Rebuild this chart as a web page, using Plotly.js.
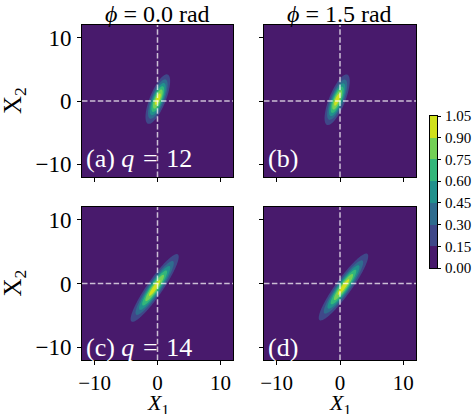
<!DOCTYPE html>
<html><head><meta charset="utf-8">
<script src="https://cdn.plot.ly/plotly-3.0.1.min.js"></script>
<style>html,body{margin:0;padding:0;background:#fff}</style>
</head><body><div id="chart" style="width:473px;height:418px"></div>
<script>
// ---- data ----
const panelLabels = ['(a) <i>q</i>\u2004=\u200412', '(b)', '(c) <i>q</i>\u2004=\u200414', '(d)'];
const columnTitles = ['<i>\u03d5</i> = 0.0 rad', '<i>\u03d5</i> = 1.5 rad'];
// Gaussian-like density fitted to each panel (peak, centre, spread, tilt)
const peakValue  = [1.00, 1.00, 1.00, 1.00];
const centreX1   = [0.05, -0.45, -0.45, 0.55];
const centreX2   = [0.30, 0.20, -0.70, -0.55];
const sigmaMajor = [2.15, 2.20, 3.30, 3.30];
const sigmaMinor = [0.65, 0.65, 0.64, 0.64];
const tiltDeg    = [68, 68, 55, 54];
const colorbarTicks = [0.00, 0.15, 0.30, 0.45, 0.60, 0.75, 0.90, 1.05];
const bandColors = ['#481a6c', '#3f4889', '#2f6c8e', '#21918c', '#33b67a', '#73d056', '#d0e11c'];
const axisTicks = [-10, 0, 10];
const axisTickText = ['\u221210', '0', '10'];

const FONT = 'Liberation Serif, Times New Roman, serif';
const W = 473, H = 418;

// grid
const grid = [];
for (let v = -12; v <= 12.0001; v += 0.1) grid.push(+v.toFixed(2));

function field(i) {
  const t = tiltDeg[i] * Math.PI / 180, c = Math.cos(t), s = Math.sin(t);
  return grid.map(y => grid.map(x => {
    const dx = x - centreX1[i], dy = y - centreX2[i];
    const u = dx * c + dy * s, w = -dx * s + dy * c;
    return peakValue[i] * Math.exp(-0.5 * (u * u / (sigmaMajor[i] ** 2) + w * w / (sigmaMinor[i] ** 2)));
  }));
}

const colorscale = bandColors.map((col, k) => [k / (bandColors.length - 1), col]);
const step = colorbarTicks[1] - colorbarTicks[0];

const traces = [0, 1, 2, 3].map(i => ({
  type: 'contour',
  x: grid, y: grid, z: field(i),
  xaxis: 'x' + (i + 1), yaxis: 'y' + (i + 1),
  autocontour: false,
  contours: {start: colorbarTicks[1], end: colorbarTicks[colorbarTicks.length - 2], size: step, coloring: 'fill', showlines: false},
  line: {width: 0},
  colorscale: colorscale,
  showscale: false,
  hoverinfo: 'skip'
}));

// colour bar drawn as a heatmap of the band mid-values
const bandMids = colorbarTicks.slice(0, -1).map((v, k) => (v + colorbarTicks[k + 1]) / 2);
traces.push({
  type: 'heatmap', xaxis: 'x5', yaxis: 'y5',
  x: [0], y: colorbarTicks, z: bandMids.map(v => [v]),
  colorscale: colorscale, zmin: bandMids[0], zmax: bandMids[bandMids.length - 1],
  showscale: false, hoverinfo: 'skip'
});

const colX = [[82 / W, 233 / W], [264 / W, 416 / W]];
const rowY = [[1 - 177 / H, 1 - 25 / H], [1 - 360 / H, 1 - 207 / H]];

const layout = {
  width: W, height: H,
  margin: {l: 0, r: 0, t: 0, b: 0, autoexpand: false},
  paper_bgcolor: '#fff', plot_bgcolor: '#fff',
  showlegend: false,
  annotations: [], shapes: [],
  xaxis5: {domain: [430 / W, 437 / W], range: [-0.5, 0.5], showticklabels: false, ticks: '',
           showline: true, mirror: true, linecolor: '#000', linewidth: 1, showgrid: false, zeroline: false, anchor: 'y5'},
  yaxis5: {domain: [1 - 268 / H, 1 - 116 / H], range: [colorbarTicks[0], colorbarTicks[colorbarTicks.length - 1]],
           side: 'right', tickvals: colorbarTicks, ticktext: colorbarTicks.map(v => v.toFixed(2)),
           ticks: 'outside', ticklen: 3, tickcolor: '#000', ticklabelstandoff: 1,
           showline: true, mirror: true, linecolor: '#000', linewidth: 1, showgrid: false, zeroline: false,
           tickfont: {family: FONT, size: 15, color: '#000'}, anchor: 'x5'}
};

for (let i = 0; i < 4; i++) {
  const col = i % 2, row = Math.floor(i / 2);
  const ax = {
    domain: col === 0 ? colX[0] : colX[1],
    range: [-12, 12], tickvals: axisTicks, ticktext: axisTickText,
    ticks: 'outside', ticklen: 4, tickwidth: 1, tickcolor: '#000',
    showline: true, mirror: true, linecolor: '#000', linewidth: 1,
    showgrid: false, zeroline: false,
    tickfont: {family: FONT, size: 21, color: '#000'},
    showticklabels: row === 1,
    anchor: 'y' + (i + 1)
  };
  const ay = {
    domain: row === 0 ? rowY[0] : rowY[1],
    range: [-12, 12], tickvals: axisTicks, ticktext: axisTickText,
    ticks: 'outside', ticklen: 4, tickwidth: 1, tickcolor: '#000',
    showline: true, mirror: true, linecolor: '#000', linewidth: 1,
    showgrid: false, zeroline: false,
    tickfont: {family: FONT, size: 23, color: '#000'},
    showticklabels: col === 0, ticklabelstandoff: 1,
    anchor: 'x' + (i + 1)
  };
  layout['xaxis' + (i === 0 ? '' : i + 1)] = ax;
  layout['yaxis' + (i === 0 ? '' : i + 1)] = ay;

  const dash = {color: 'rgba(255,255,255,0.72)', width: 1.5, dash: '5.5px,2.4px'};
  layout.shapes.push({type: 'line', xref: 'x' + (i + 1), yref: 'y' + (i + 1) + ' domain', x0: 0, x1: 0, y0: 0, y1: 1, line: dash});
  layout.shapes.push({type: 'line', xref: 'x' + (i + 1) + ' domain', yref: 'y' + (i + 1), x0: 0, x1: 1, y0: 0, y1: 0, line: dash});

  layout.annotations.push({
    text: panelLabels[i], xref: 'paper', yref: 'paper',
    x: (col === 0 ? 84 : 266) / W, y: 1 - (row === 0 ? 159 : 347) / H,
    xanchor: 'left', yanchor: 'middle', showarrow: false,
    font: {family: FONT, size: 26, color: '#fff'}
  });
}

// column titles
columnTitles.forEach((t, c) => layout.annotations.push({
  text: t, xref: 'paper', yref: 'paper',
  x: (colX[c][0] + colX[c][1]) / 2, y: 1 - 14 / H, xanchor: 'center', yanchor: 'middle',
  showarrow: false, font: {family: FONT, size: 24, color: '#000'}
}));
// y titles
[0, 1].forEach(r => layout.annotations.push({
  text: 'X<sub>2</sub>', xref: 'paper', yref: 'paper', textangle: -90,
  x: 14 / W, y: (rowY[r][0] + rowY[r][1]) / 2, xanchor: 'center', yanchor: 'middle',
  showarrow: false, font: {family: FONT, size: 25, color: '#000'}
}));
// x titles
[0, 1].forEach(c => layout.annotations.push({
  text: '<i>X</i><sub>1</sub>', xref: 'paper', yref: 'paper',
  x: (colX[c][0] + colX[c][1]) / 2, y: 0, xanchor: 'center', yanchor: 'bottom',
  height: 20, borderpad: 0, valign: 'middle', yshift: 3,
  showarrow: false, font: {family: FONT, size: 22, color: '#000'}
}));

Plotly.newPlot('chart', traces, layout, {staticPlot: true, displayModeBar: false});
</script></body></html>
